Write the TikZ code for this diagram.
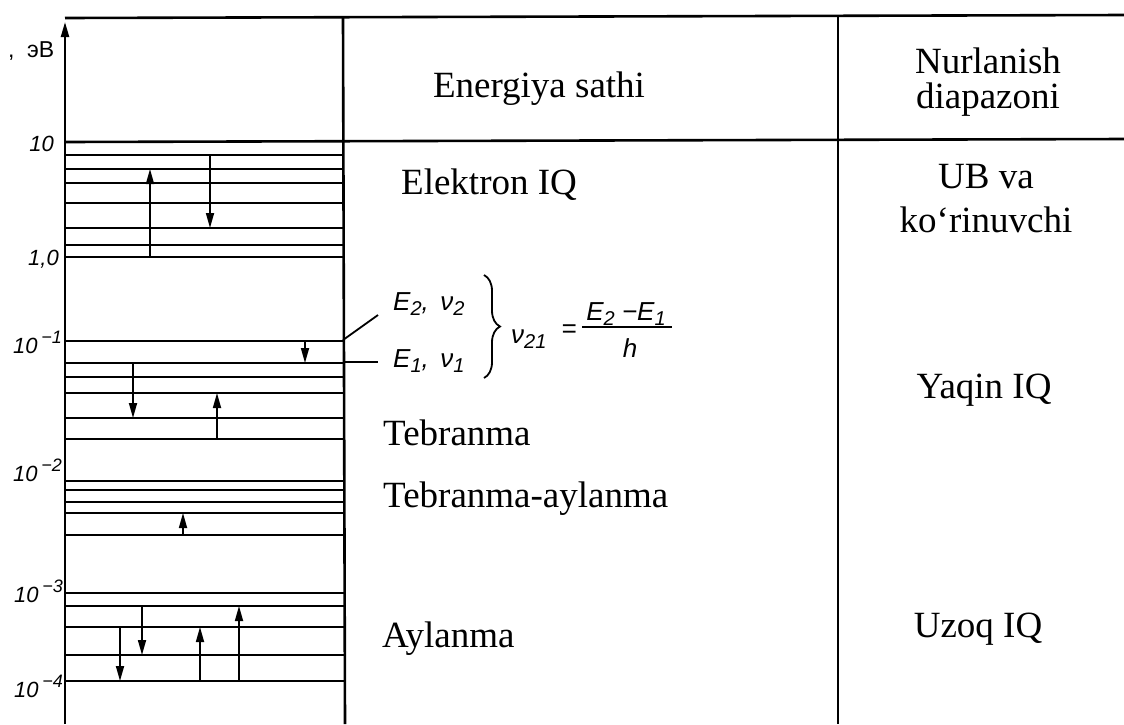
\documentclass[tikz,border=0pt]{standalone}
\usepackage{fontspec}
\setmainfont{Liberation Serif}
\newfontfamily\labfont{Liberation Sans}
\usetikzlibrary{arrows.meta,decorations.pathreplacing}
% raised exponent and lowered index in the sans labels
\newcommand{\expo}[1]{\raisebox{10pt}{\fontsize{18}{20}\selectfont #1}}
\newcommand{\idx}[1]{\raisebox{-5pt}{\fontsize{20}{22}\selectfont #1}}
\tikzset{
  rule/.style={line width=2.6pt},
  lvl/.style={line width=2.4pt},
  jump/.style={line width=1.7pt,-{Triangle[width=8pt,length=15pt]}},
  axis/.style={line width=2.2pt,-{Triangle[width=8pt,length=15pt]}},
  cell/.style={font=\fontsize{37}{44}\selectfont,inner sep=0pt,anchor=base},
  cellw/.style={cell,anchor=base west},
  tick/.style={font=\labfont\itshape\fontsize{22}{24}\selectfont,inner sep=0pt,anchor=base east},
  lab/.style={font=\labfont\itshape\fontsize{26}{30}\selectfont,inner sep=0pt},
  fine/.style={line width=1.8pt},
}
\begin{document}
\begin{tikzpicture}[x=1pt,y=-1pt]
\useasboundingbox (0,0) rectangle (1124,724);
% table rules
\draw[rule] (65,18) -- (1124,15);
\draw[rule] (65,142) -- (1124,139);
\draw[rule] (343,18) -- (345,724);
\draw[rule] (838,15) -- (838,724);
% energy axis
\draw[axis] (65,724) -- (65,22);
\node[font=\labfont\fontsize{23}{26}\selectfont,inner sep=0pt,anchor=base west] (unit) at (27,57) {эВ};
\node[font=\labfont\fontsize{23}{26}\selectfont,inner sep=0pt,anchor=base west] (comma) at (8,57) {,};
% energy levels
\foreach \y in {155,169,183,203,228,245,257,
                341,363,377,393,418,439,
                481,490,502,513,535,
                593,606,627,655,681}
  \draw[lvl] (66,\y) -- (344,\y);
% transitions
\draw[jump] (150,257) -- (150,169);
\draw[jump] (210,155) -- (210,228);
\draw[jump] (305,341) -- (305,363);
\draw[jump] (133,363) -- (133,418);
\draw[jump] (217,439) -- (217,393);
\draw[jump] (183,535) -- (183,513);
\draw[jump] (142,606) -- (142,655);
\draw[jump] (120,627) -- (120,681);
\draw[jump] (200,681) -- (200,627);
\draw[jump] (239,681) -- (239,606);
% axis values
\node[tick] (t10) at (54,151) {10};
\node[tick] (t1) at (59,265) {1,0};
\node[tick] (tm1) at (62,353) {10\,\expo{−1}};
\node[tick] (tm2) at (62,481) {10\,\expo{−2}};
\node[tick] (tm3) at (63,602) {10\,\expo{−3}};
\node[tick] (tm4) at (63,697) {10\,\expo{−4}};
% header
\node[cell] (es) at (539,97) {Energiya sathi};
\node[cell] (nd1) at (988,73) {Nurlanish};
\node[cell] (nd2) at (988,108) {diapazoni};
% middle column
\node[cell] (el) at (489,194) {Elektron IQ};
\node[cellw] (tb) at (383,445) {Tebranma};
\node[cellw] (tba) at (383,507) {Tebranma-aylanma};
\node[cellw] (ay) at (382,647) {Aylanma};
% right column
\node[cell] (ub1) at (986,188) {UB va};
\node[cell] (ub2) at (986,232) {ko‘rinuvchi};
\node[cell] (yq) at (984,398) {Yaqin IQ};
\node[cell] (uz) at (978,637) {Uzoq IQ};
% pair of levels and the transition frequency
\node[lab,anchor=base west] (E2) at (393,310) {E\idx{2}, \,ν\idx{2}};
\node[lab,anchor=base west] (E1) at (393,367) {E\idx{1}, \,ν\idx{1}};
\coordinate (p2) at (343,340);
\coordinate (p1) at (343,362);
\draw[fine] (p2) -- (378,315);
\draw[fine] (p1) -- (378,362);
\draw[fine,decorate,decoration={brace,amplitude=16pt}] (484,275) -- (484,378);
\node[lab,anchor=base west] (nu) at (511,343) {ν\idx{21}};
\node[lab,anchor=center] (eq) at (569,331) {=};
\node[lab,anchor=base] (num) at (626,320) {E\idx{2} −E\idx{1}};
\coordinate (fl) at (582,327);
\coordinate (fr) at (672,327);
\draw[fine] (fl) -- (fr);
\node[lab,anchor=base] (den) at (630,357) {h};
\end{tikzpicture}
\end{document}
